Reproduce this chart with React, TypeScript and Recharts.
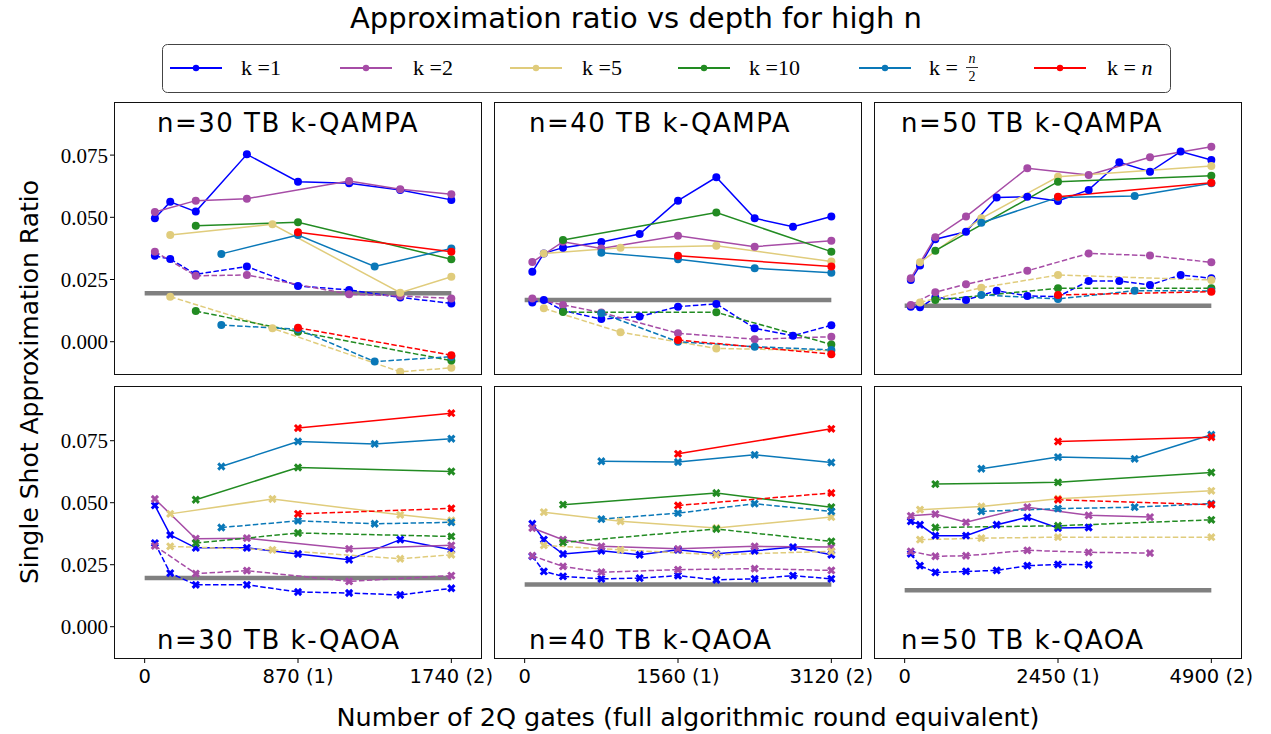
import { Line, LineChart, XAxis, YAxis } from 'recharts';

// k = 1, 2, 5, 10, n/2, n
const COLORS = ['#0000ff', '#a64ca6', '#e0cc7c', '#228b22', '#0a78b8', '#ff0000'];
const LEGEND_LABELS = ['k =1', 'k =2', 'k =5', 'k =10', 'k = n/2', 'k = n'];
const Y_TICKS = [0, 0.025, 0.05, 0.075];

// ---- n = 30, QAMPA (top) ----
const QAMPA30_K1 = { x: [58, 145, 290, 580, 870, 1160, 1450, 1740], solid: [0.0496, 0.0562, 0.0523, 0.0753, 0.0643, 0.0637, 0.061, 0.057], dashed: [0.0345, 0.0332, 0.0271, 0.0302, 0.0224, 0.0208, 0.0178, 0.0154] };
const QAMPA30_K2 = { x: [58, 290, 580, 1160, 1450, 1740], solid: [0.0521, 0.0567, 0.0575, 0.0646, 0.0613, 0.0593], dashed: [0.0362, 0.0265, 0.0268, 0.0191, 0.0184, 0.0174] };
const QAMPA30_K5 = { x: [145, 725, 1450, 1740], solid: [0.0429, 0.0472, 0.0197, 0.0261], dashed: [0.0181, 0.0054, -0.0121, -0.0105] };
const QAMPA30_K10 = { x: [290, 870, 1740], solid: [0.0466, 0.048, 0.0331], dashed: [0.0123, 0.004, -0.0076] };
const QAMPA30_KN2 = { x: [435, 870, 1305, 1740], solid: [0.0353, 0.0429, 0.0302, 0.0375], dashed: [0.0067, 0.005, -0.008, -0.006] };
const QAMPA30_KN = { x: [870, 1740], solid: [0.044, 0.0362], dashed: [0.0056, -0.0054] };

// ---- n = 40, QAMPA ----
const QAMPA40_K1 = { x: [78, 195, 390, 780, 1170, 1560, 1950, 2340, 2730, 3120], solid: [0.0281, 0.0355, 0.0378, 0.0401, 0.0433, 0.0567, 0.0661, 0.0496, 0.0462, 0.0503], dashed: [0.0158, 0.0168, 0.0125, 0.0091, 0.0101, 0.0141, 0.0152, 0.0054, 0.0024, 0.0066] };
const QAMPA40_K2 = { x: [78, 390, 780, 1560, 2340, 3120], solid: [0.032, 0.0402, 0.0375, 0.0426, 0.0382, 0.0406], dashed: [0.0174, 0.0148, 0.0117, 0.0034, 0.001, 0.002] };
const QAMPA40_K5 = { x: [195, 975, 1950, 3120], solid: [0.0355, 0.0378, 0.0386, 0.0322], dashed: [0.0134, 0.0038, -0.0027, -0.0036] };
const QAMPA40_K10 = { x: [390, 1950, 3120], solid: [0.0409, 0.0519, 0.0362], dashed: [0.0119, 0.0118, -0.0011] };
const QAMPA40_KN2 = { x: [780, 1560, 2340, 3120], solid: [0.0358, 0.0331, 0.0295, 0.0277], dashed: [0.0114, 0.0, -0.002, -0.0033] };
const QAMPA40_KN = { x: [1560, 3120], solid: [0.0345, 0.0302], dashed: [0.0007, -0.005] };

// ---- n = 50, QAMPA ----
const QAMPA50_K1 = { x: [98, 245, 490, 980, 1470, 1960, 2450, 2940, 3430, 3920, 4410, 4900], solid: [0.0248, 0.0306, 0.0412, 0.0442, 0.058, 0.0583, 0.0566, 0.061, 0.0721, 0.0683, 0.0764, 0.073], dashed: [0.0141, 0.0138, 0.0178, 0.0168, 0.0205, 0.0184, 0.0181, 0.0244, 0.0244, 0.0228, 0.0268, 0.0255] };
const QAMPA50_K2 = { x: [98, 490, 980, 1960, 2940, 3920, 4900], solid: [0.0255, 0.042, 0.0503, 0.0697, 0.067, 0.0741, 0.0784], dashed: [0.0148, 0.0199, 0.0231, 0.0285, 0.0355, 0.0346, 0.0319] };
const QAMPA50_K5 = { x: [245, 1225, 2450, 4900], solid: [0.0319, 0.0496, 0.0663, 0.0706], dashed: [0.0158, 0.0217, 0.0268, 0.0248] };
const QAMPA50_K10 = { x: [490, 2450, 4900], solid: [0.0366, 0.0643, 0.0667], dashed: [0.0168, 0.0215, 0.0215] };
const QAMPA50_KN2 = { x: [1225, 2450, 3675, 4900], solid: [0.0478, 0.058, 0.0586, 0.0637], dashed: [0.0188, 0.0172, 0.0205, 0.0204] };
const QAMPA50_KN = { x: [2450, 4900], solid: [0.0583, 0.0639], dashed: [0.0188, 0.0201] };

// ---- n = 30, QAOA (bottom) ----
const QAOA30_K1 = { x: [58, 145, 290, 580, 870, 1160, 1450, 1740], solid: [0.0489, 0.037, 0.0318, 0.0318, 0.0293, 0.027, 0.0351, 0.031], dashed: [0.0337, 0.0216, 0.0169, 0.0169, 0.014, 0.0136, 0.0128, 0.0155] };
const QAOA30_K2 = { x: [58, 290, 580, 1160, 1740], solid: [0.0515, 0.0355, 0.0357, 0.0314, 0.0328], dashed: [0.0326, 0.0214, 0.0226, 0.0183, 0.0206] };
const QAOA30_K5 = { x: [145, 725, 1450, 1740], solid: [0.0455, 0.0515, 0.0451, 0.0429], dashed: [0.0324, 0.031, 0.0274, 0.029] };
const QAOA30_K10 = { x: [290, 870, 1740], solid: [0.0512, 0.0642, 0.0626], dashed: [0.0337, 0.0378, 0.0364] };
const QAOA30_KN2 = { x: [435, 870, 1305, 1740], solid: [0.0646, 0.0747, 0.0737, 0.0758], dashed: [0.04, 0.0427, 0.0415, 0.0421] };
const QAOA30_KN = { x: [870, 1740], solid: [0.0801, 0.0861], dashed: [0.0455, 0.0477] };

// ---- n = 40, QAOA ----
const QAOA40_K1 = { x: [78, 195, 390, 780, 1170, 1560, 1950, 2340, 2730, 3120], solid: [0.0415, 0.0351, 0.0293, 0.0306, 0.029, 0.031, 0.0294, 0.0306, 0.0321, 0.029], dashed: [0.0284, 0.0223, 0.0203, 0.0193, 0.0196, 0.0206, 0.0189, 0.0193, 0.0206, 0.0193] };
const QAOA40_K2 = { x: [78, 390, 780, 1560, 2340, 3120], solid: [0.0398, 0.0351, 0.0324, 0.0314, 0.0324, 0.0321], dashed: [0.0286, 0.0243, 0.022, 0.023, 0.0234, 0.0227] };
const QAOA40_K5 = { x: [195, 975, 1950, 3120], solid: [0.0462, 0.0425, 0.0398, 0.0442], dashed: [0.0328, 0.031, 0.029, 0.0304] };
const QAOA40_K10 = { x: [390, 1950, 3120], solid: [0.0492, 0.0539, 0.0482], dashed: [0.034, 0.0394, 0.0344] };
const QAOA40_KN2 = { x: [780, 1560, 2340, 3120], solid: [0.0667, 0.0664, 0.0693, 0.0662], dashed: [0.0434, 0.0458, 0.0496, 0.0465] };
const QAOA40_KN = { x: [1560, 3120], solid: [0.0697, 0.0798], dashed: [0.0489, 0.0539] };

// ---- n = 50, QAOA ----
const QAOA50_K1 = { x: [98, 245, 490, 980, 1470, 1960, 2450, 2940], solid: [0.0425, 0.0411, 0.0367, 0.0367, 0.0411, 0.0441, 0.0398, 0.04], dashed: [0.0294, 0.0246, 0.0219, 0.0223, 0.0227, 0.0246, 0.0251, 0.025] };
const QAOA50_K2 = { x: [98, 490, 980, 1960, 2940, 3920], solid: [0.0447, 0.0454, 0.0421, 0.0482, 0.0449, 0.0442], dashed: [0.0304, 0.0284, 0.0286, 0.0308, 0.03, 0.0297] };
const QAOA50_K5 = { x: [245, 1225, 2450, 4900], solid: [0.0472, 0.0485, 0.0516, 0.0548], dashed: [0.0351, 0.0357, 0.0361, 0.0361] };
const QAOA50_K10 = { x: [490, 2450, 4900], solid: [0.0575, 0.0582, 0.0622], dashed: [0.04, 0.0407, 0.0431] };
const QAOA50_KN2 = { x: [1225, 2450, 3675, 4900], solid: [0.0637, 0.0684, 0.0677, 0.0774], dashed: [0.0465, 0.0476, 0.0482, 0.0496] };
const QAOA50_KN = { x: [2450, 4900], solid: [0.0747, 0.0764], dashed: [0.0512, 0.0492] };

// random-guess baselines (grey bar), per n
const BASELINE_QAMPA = [0.0195, 0.0168, 0.0145];
const BASELINE_QAOA = [0.0196, 0.017, 0.0147];
const MAX_GATES = [1740, 3120, 4900];

type Series = { x: number[]; solid: number[]; dashed: number[] };

const PANELS = [
  { title: 'n=30 TB k-QAMPA', series: [QAMPA30_K1, QAMPA30_K2, QAMPA30_K5, QAMPA30_K10, QAMPA30_KN2, QAMPA30_KN], base: BASELINE_QAMPA[0], row: 0, col: 0 },
  { title: 'n=40 TB k-QAMPA', series: [QAMPA40_K1, QAMPA40_K2, QAMPA40_K5, QAMPA40_K10, QAMPA40_KN2, QAMPA40_KN], base: BASELINE_QAMPA[1], row: 0, col: 1 },
  { title: 'n=50 TB k-QAMPA', series: [QAMPA50_K1, QAMPA50_K2, QAMPA50_K5, QAMPA50_K10, QAMPA50_KN2, QAMPA50_KN], base: BASELINE_QAMPA[2], row: 0, col: 2 },
  { title: 'n=30 TB k-QAOA', series: [QAOA30_K1, QAOA30_K2, QAOA30_K5, QAOA30_K10, QAOA30_KN2, QAOA30_KN], base: BASELINE_QAOA[0], row: 1, col: 0 },
  { title: 'n=40 TB k-QAOA', series: [QAOA40_K1, QAOA40_K2, QAOA40_K5, QAOA40_K10, QAOA40_KN2, QAOA40_KN], base: BASELINE_QAOA[1], row: 1, col: 1 },
  { title: 'n=50 TB k-QAOA', series: [QAOA50_K1, QAOA50_K2, QAOA50_K5, QAOA50_K10, QAOA50_KN2, QAOA50_KN], base: BASELINE_QAOA[2], row: 1, col: 2 },
];

const COL_LEFT = [114, 494, 874];
const ROW_TOP = [102, 386];
const PANEL_W = 368;
const PANEL_H = 273;
const Y_DOMAIN = [
  [-0.01338, 0.09634],
  [-0.01302, 0.09706],
];
const YAXIS_W = 60;
const XAXIS_H = 30;
const RIGHT_PAD = 40; // room for the last x tick label
const TITLE_X = [157, 529, 901];
const TITLE_BASE = [132, 649];

const SANS = 'DejaVu Sans';
const SERIF = 'Liberation Serif';

const toRows = (x: number[], y: number[]) => x.map((v, i) => ({ x: v, y: y[i] }));

function circleDot(color: string) {
  return (p: any) => {
    if (p.cx == null || p.cy == null) return <g key={p.index} />;
    return <circle key={p.index} cx={p.cx} cy={p.cy} r={4} fill={color} stroke="none" />;
  };
}

function crossDot(color: string) {
  return (p: any) => {
    if (p.cx == null || p.cy == null) return <g key={p.index} />;
    const s = 4.4;
    const a = 1.5;
    const pts = [[-a, -s], [a, -s], [a, -a], [s, -a], [s, a], [a, a], [a, s], [-a, s], [-a, a], [-s, a], [-s, -a], [-a, -a]];
    const c = Math.SQRT1_2;
    const d = pts.map(([px, py], i) => `${i ? 'L' : 'M'}${p.cx + (px - py) * c},${p.cy + (px + py) * c}`).join('') + 'Z';
    return <path key={p.index} d={d} fill={color} stroke="none" />;
  };
}

function Panel({ series, base, row, col }: { series: Series[]; base: number; row: number; col: number }) {
  const max = MAX_GATES[col];
  const showY = col === 0;
  const showX = row === 1;
  const padR = showX ? RIGHT_PAD : 0;
  const width = PANEL_W + (showY ? YAXIS_W : 0) + padR;
  const height = PANEL_H + (showX ? XAXIS_H : 0);
  const left = COL_LEFT[col] - (showY ? YAXIS_W : 0);
  const top = ROW_TOP[row];
  const dot = row === 0 ? circleDot : crossDot;
  const half = max / 2;

  return (
    <div style={{ position: 'absolute', left, top, width, height }}>
      <LineChart width={width} height={height} margin={{ top: 0, right: padR, bottom: 0, left: 0 }}>
        <XAxis
          type="number"
          dataKey="x"
          domain={[-0.1 * max, 1.1 * max]}
          ticks={[0, half, max]}
          allowDataOverflow
          hide={!showX}
          height={XAXIS_H}
          axisLine={false}
          tickSize={4}
          tickMargin={6}
          tickLine={{ stroke: '#000' }}
          tick={{ fill: '#000', fontSize: 19.5, fontFamily: SANS }}
          tickFormatter={(v: number) => (v === 0 ? '0' : v === half ? `${v} (1)` : `${v} (2)`)}
        />
        <YAxis
          type="number"
          dataKey="y"
          domain={Y_DOMAIN[row]}
          ticks={Y_TICKS}
          allowDataOverflow
          hide={!showY}
          width={YAXIS_W}
          axisLine={false}
          tickSize={4}
          tickMargin={2}
          tickLine={{ stroke: '#000' }}
          tick={{ fill: '#000', fontSize: 21, fontFamily: SERIF }}
          tickFormatter={(v: number) => v.toFixed(3)}
        />
        <Line
          data={[{ x: 0, y: base }, { x: max, y: base }]}
          dataKey="y"
          stroke="#808080"
          strokeWidth={4.5}
          dot={false}
          activeDot={false}
          isAnimationActive={false}
        />
        {series.map((s, i) => [
          <Line
            key={`s${i}`}
            data={toRows(s.x, s.solid)}
            dataKey="y"
            stroke={COLORS[i]}
            strokeWidth={1.5}
            dot={dot(COLORS[i])}
            activeDot={false}
            isAnimationActive={false}
          />,
          <Line
            key={`d${i}`}
            data={toRows(s.x, s.dashed)}
            dataKey="y"
            stroke={COLORS[i]}
            strokeWidth={1.5}
            strokeDasharray="5.5 2.4"
            dot={dot(COLORS[i])}
            activeDot={false}
            isAnimationActive={false}
          />,
        ])}
      </LineChart>
    </div>
  );
}

const LEGEND_LINE_X = [170, 340, 510, 678, 859, 1034];
const LEGEND_TEXT_X = [241, 413, 582, 749, 929, 1107];

function Legend() {
  return (
    <g>
      <rect x={162.5} y={44.5} width={1008} height={48} rx={5} fill="#fff" stroke="#444" strokeWidth={1} />
      {COLORS.map((c, i) => (
        <g key={i}>
          <line x1={LEGEND_LINE_X[i]} x2={LEGEND_LINE_X[i] + 52} y1={68} y2={68} stroke={c} strokeWidth={2} />
          <circle cx={LEGEND_LINE_X[i] + 26} cy={68} r={3.2} fill={c} />
          {i < 4 && (
            <text x={LEGEND_TEXT_X[i]} y={75} fontFamily={SERIF} fontSize={22} fill="#000">
              {LEGEND_LABELS[i]}
            </text>
          )}
        </g>
      ))}
      <text x={LEGEND_TEXT_X[4]} y={75} fontFamily={SERIF} fontSize={22} fill="#000">k =</text>
      <text x={LEGEND_TEXT_X[4] + 43} y={63} fontFamily={SERIF} fontSize={14} fontStyle="italic" textAnchor="middle" fill="#000">n</text>
      <line x1={LEGEND_TEXT_X[4] + 37} x2={LEGEND_TEXT_X[4] + 49} y1={67.5} y2={67.5} stroke="#000" strokeWidth={0.8} />
      <text x={LEGEND_TEXT_X[4] + 43} y={81} fontFamily={SERIF} fontSize={14} textAnchor="middle" fill="#000">2</text>
      <text x={LEGEND_TEXT_X[5]} y={75} fontFamily={SERIF} fontSize={22} fill="#000">
        k = <tspan fontStyle="italic">n</tspan>
      </text>
    </g>
  );
}

export default function App() {
  return (
    <div style={{ position: 'absolute', left: 0, top: 0, width: 1271, height: 734, background: '#fff', overflow: 'hidden' }}>
      {PANELS.map((p, i) => (
        <Panel key={i} series={p.series} base={p.base} row={p.row} col={p.col} />
      ))}
      {PANELS.map((p, i) => (
        <div
          key={`f${i}`}
          style={{
            position: 'absolute',
            left: COL_LEFT[p.col],
            top: ROW_TOP[p.row],
            width: PANEL_W,
            height: PANEL_H,
            border: '1px solid #111',
            boxSizing: 'border-box',
            pointerEvents: 'none',
          }}
        />
      ))}
      <svg width={1271} height={734} style={{ position: 'absolute', left: 0, top: 0, pointerEvents: 'none' }}>
        <text x={636} y={28} textAnchor="middle" fontFamily={SANS} fontSize={29} fill="#000">
          Approximation ratio vs depth for high n
        </text>
        <Legend />
        {PANELS.map((p, i) => (
          <text key={i} x={TITLE_X[p.col]} y={TITLE_BASE[p.row]} fontFamily={SANS} fontSize={26} letterSpacing={1.5} fill="#000">
            {p.title}
          </text>
        ))}
        <text x={688} y={726} textAnchor="middle" fontFamily={SANS} fontSize={25.5} fill="#000">
          Number of 2Q gates (full algorithmic round equivalent)
        </text>
        <text transform="translate(38,382) rotate(-90)" textAnchor="middle" fontFamily={SANS} fontSize={25} fill="#000">
          Single Shot Approximation Ratio
        </text>
      </svg>
    </div>
  );
}
